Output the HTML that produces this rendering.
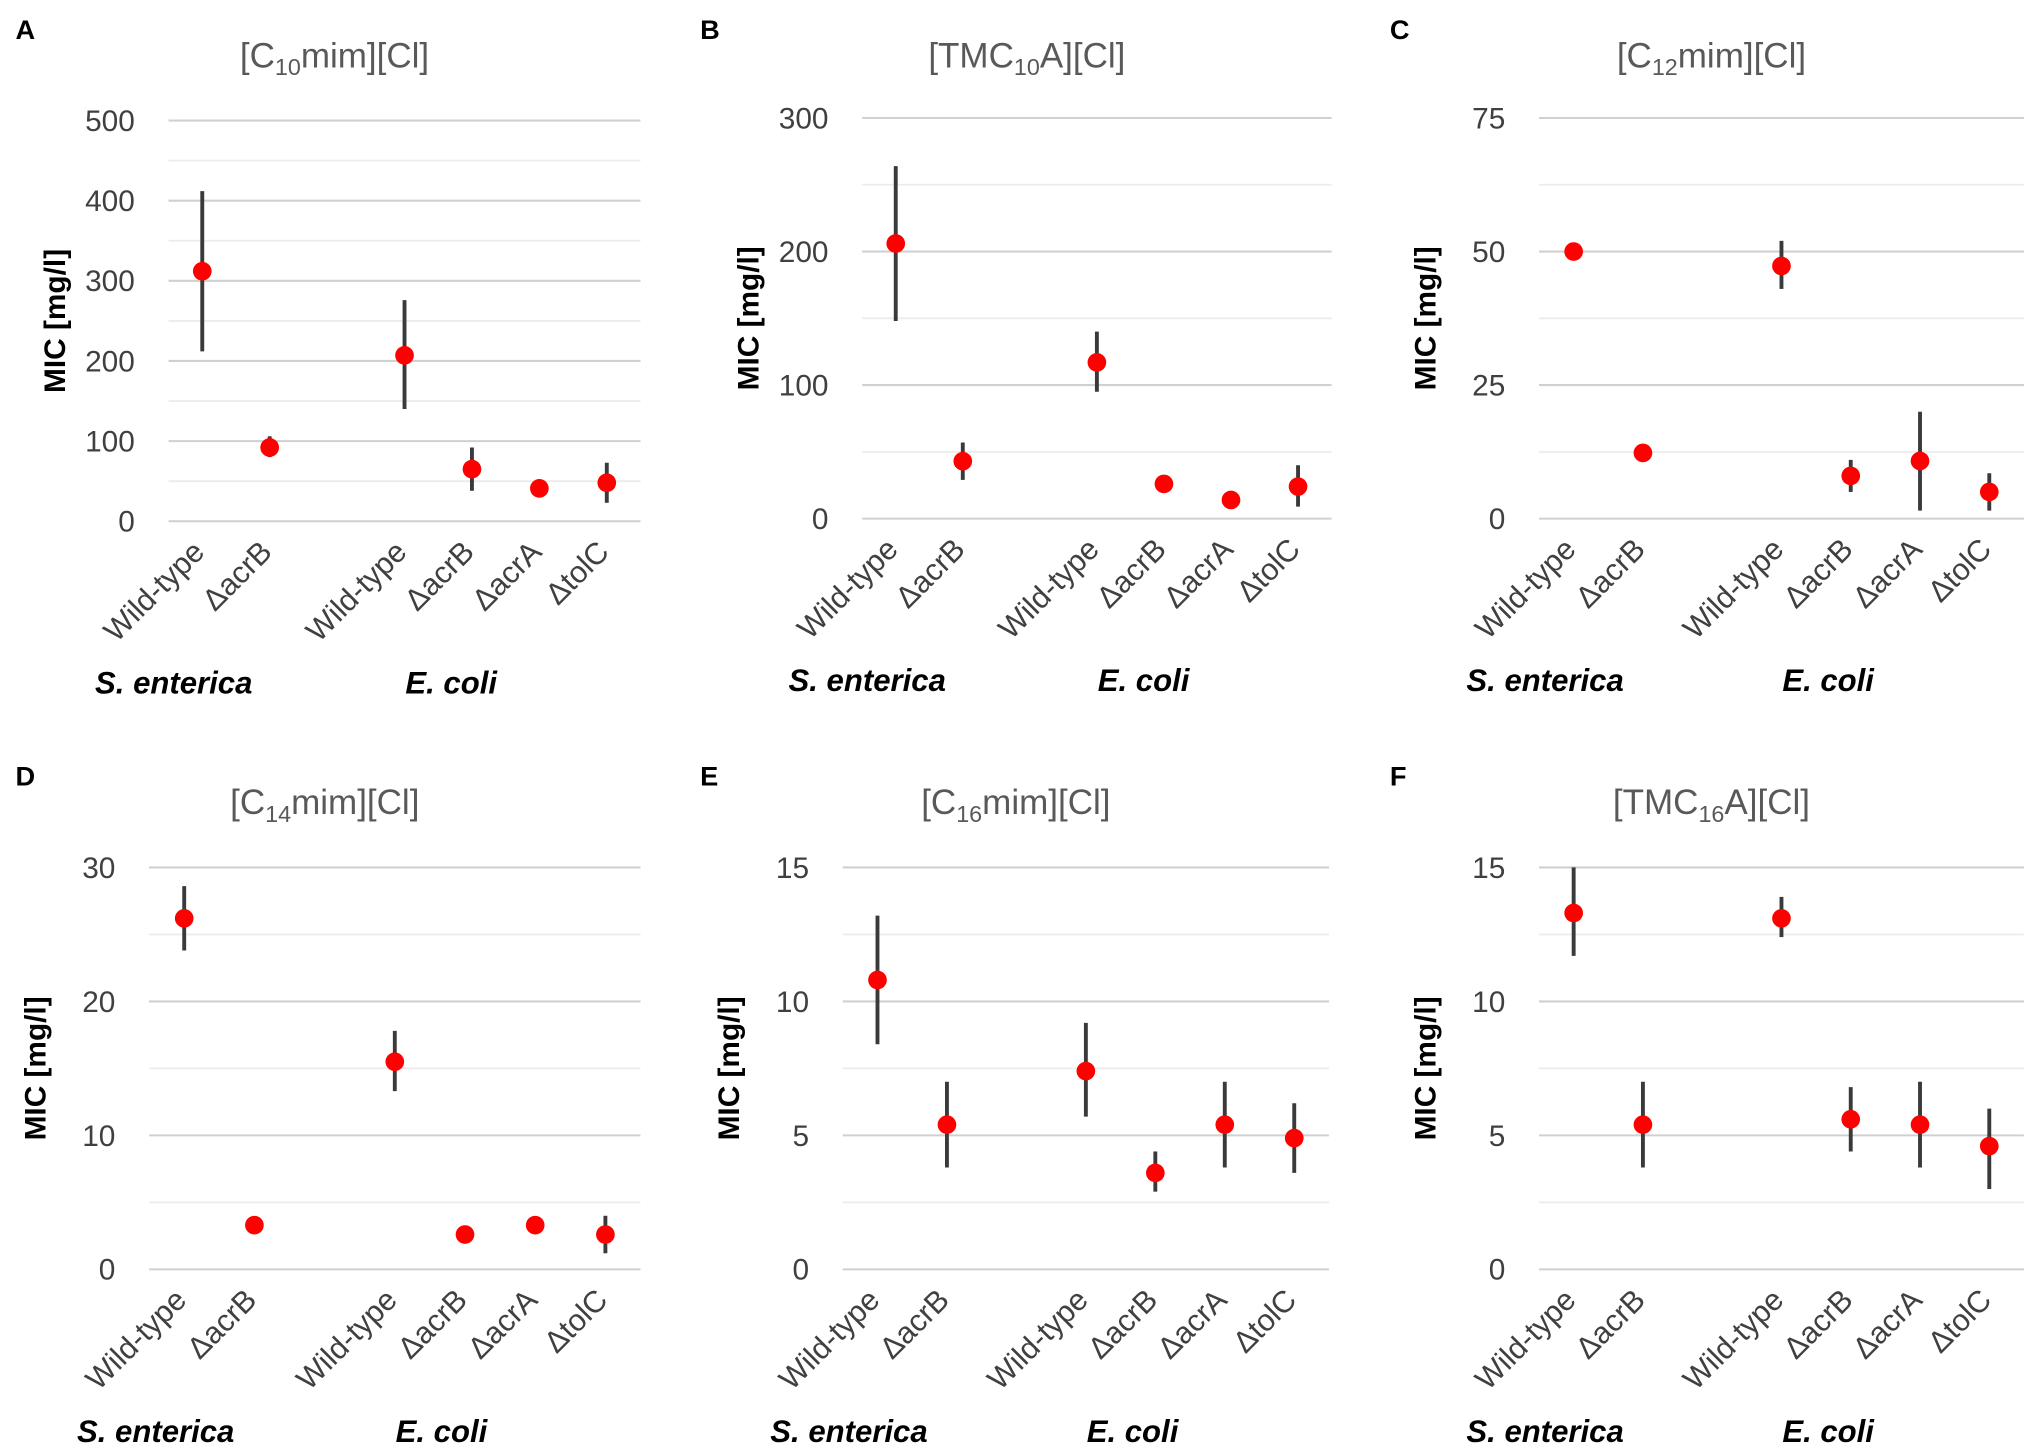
<!DOCTYPE html>
<html><head><meta charset="utf-8"><style>
html,body{margin:0;padding:0;background:#fff;}
svg{display:block;}
text{font-family:"Liberation Sans","DejaVu Sans",sans-serif;}
</style></head><body>
<svg id="fig" width="2033" height="1454" viewBox="0 0 1568 1121.4" preserveAspectRatio="none" xmlns="http://www.w3.org/2000/svg"></svg>
<script>
const categories = ["Wild-type","ΔacrB","","Wild-type","ΔacrB","ΔacrA","ΔtolC"];
const species = ["S. enterica","E. coli"];
const panelLetters = ["A","B","C","D","E","F"];
const titleMain = ["[C","[TMC","[C","[C","[C","[TMC"];
const titleSub = ["10","10","12","14","16","16"];
const titleEnd = ["mim][Cl]","A][Cl]","mim][Cl]","mim][Cl]","mim][Cl]","A][Cl]"];
const yMax = [500,300,75,30,15,15];
const yMajor = [100,100,25,10,5,5];
const yMinor = [50,50,12.5,5,2.5,2.5];
// values per panel (index 2 = gap)
const valA = [312,92,null,207,65,41,48];
const lowA = [212,80,null,140,38,36,23];
const highA = [412,106,null,276,92,46,73];
const valB = [206,43,null,117,26,14,24];
const lowB = [148,29,null,95,22,12,9];
const highB = [264,57,null,140,30,16,40];
const valC = [50,12.3,null,47.3,8,10.8,5];
const lowC = [49,11.3,null,43,5,1.5,1.5];
const highC = [51,13.3,null,52,11,20,8.5];
const valD = [26.2,3.3,null,15.5,2.6,3.3,2.6];
const lowD = [23.8,3.0,null,13.3,2.3,3.0,1.2];
const highD = [28.6,3.6,null,17.8,2.9,3.6,4.0];
const valE = [10.8,5.4,null,7.4,3.6,5.4,4.9];
const lowE = [8.4,3.8,null,5.7,2.9,3.8,3.6];
const highE = [13.2,7.0,null,9.2,4.4,7.0,6.2];
const valF = [13.3,5.4,null,13.1,5.6,5.4,4.6];
const lowF = [11.7,3.8,null,12.4,4.4,3.8,3.0];
const highF = [15.0,7.0,null,13.9,6.8,7.0,6.0];
const vals=[valA,valB,valC,valD,valE,valF], lows=[lowA,lowB,lowC,lowD,lowE,lowF], highs=[highA,highB,highC,highD,highE,highF];

const layout=[
 {l:130,r:494,top:93,bot:402,let:[12,24]},
 {l:665,r:1027,top:91,bot:400,let:[540,24]},
 {l:1187,r:1561,top:91,bot:400,let:[1072,24]},
 {l:115,r:494,top:669,bot:979,let:[12,600]},
 {l:650,r:1025,top:669,bot:979,let:[540,600]},
 {l:1187,r:1561,top:669,bot:979,let:[1072,600]}];
const NS="http://www.w3.org/2000/svg";
const svg=document.getElementById('fig');
function mk(tag,attrs,parent){const e=document.createElementNS(NS,tag);for(const k in attrs)e.setAttribute(k,attrs[k]);(parent||svg).appendChild(e);return e;}

for(let p=0;p<6;p++){
  const L=layout[p];
  const g=mk('g',{});
  
  
  const y=v=>L.bot-(v/yMax[p])*(L.bot-L.top);
  const slot=(L.r-L.l)/7;
  const x=i=>L.l+slot*(i+0.5);
  const lt=mk('text',{x:L.let[0],y:L.let[1]+6,'font-size':21,'font-weight':'bold',fill:'#000'},g);
  lt.textContent=panelLetters[p];
  
  
  const tt=mk('text',{x:(L.l+L.r)/2-54,y:L.let[1]+28,'font-size':27,fill:'#595959','text-anchor':'middle'},g);
  
  
  const s1=mk('tspan',{},tt);s1.textContent=titleMain[p];
  const s2=mk('tspan',{'font-size':18,dy:6},tt);s2.textContent=titleSub[p];
  const s3=mk('tspan',{dy:-6},tt);s3.textContent=titleEnd[p];
  for(let v=0;v<=yMax[p]+1e-9;v+=yMinor[p]){
    const major=Math.abs(v/yMajor[p]-Math.round(v/yMajor[p]))<1e-6;
    const gl=mk('line',{x1:L.l,x2:L.r,y1:y(v),y2:y(v),stroke:major?'#d0d0d0':'#ececec','stroke-width':major?1.6:1.4},g);
    
    
    if(major){
      const tl=mk('text',{x:L.l-26,y:y(v)+8,'font-size':23,fill:'#404040','text-anchor':'end'},g);
      tl.textContent=String(Math.round(v));
      
      
    }
  }
  const cy=(L.top+L.bot)/2;
  const yt=mk('text',{x:0,y:0,'font-size':23,'font-weight':'bold',fill:'#000','text-anchor':'middle',transform:`translate(${L.l-80},${cy}) rotate(-90)`},g);
  yt.textContent='MIC [mg/l]';
  
  
  categories.forEach((c,i)=>{
    if(!c)return;
    const cx=x(i)+3, ty=L.bot+25;
    const t=mk('text',{x:0,y:0,'font-size':23.5,fill:'#404040','text-anchor':'end',transform:`translate(${cx},${ty}) rotate(-45)`},g);
    t.textContent=c;
    
    
  });
  const sp1=mk('text',{x:x(0)-22,y:L.bot+133,'font-size':24,'font-weight':'bold','font-style':'italic',fill:'#000','text-anchor':'middle'},g);
  sp1.textContent=species[0];
  
  
  const sp2=mk('text',{x:x(3)+36,y:L.bot+133,'font-size':24,'font-weight':'bold','font-style':'italic',fill:'#000','text-anchor':'middle'},g);
  sp2.textContent=species[1];
  
  
  vals[p].forEach((v,i)=>{
    if(v===null)return;
    const eb=mk('line',{x1:x(i),x2:x(i),y1:y(lows[p][i]),y2:y(highs[p][i]),stroke:'#3a3a3a','stroke-width':3},g);
    
    
    const pt=mk('circle',{cx:x(i),cy:y(v),r:7.2,fill:'#ff0000'},g);
    
    
  });
}
</script>
</body></html>
